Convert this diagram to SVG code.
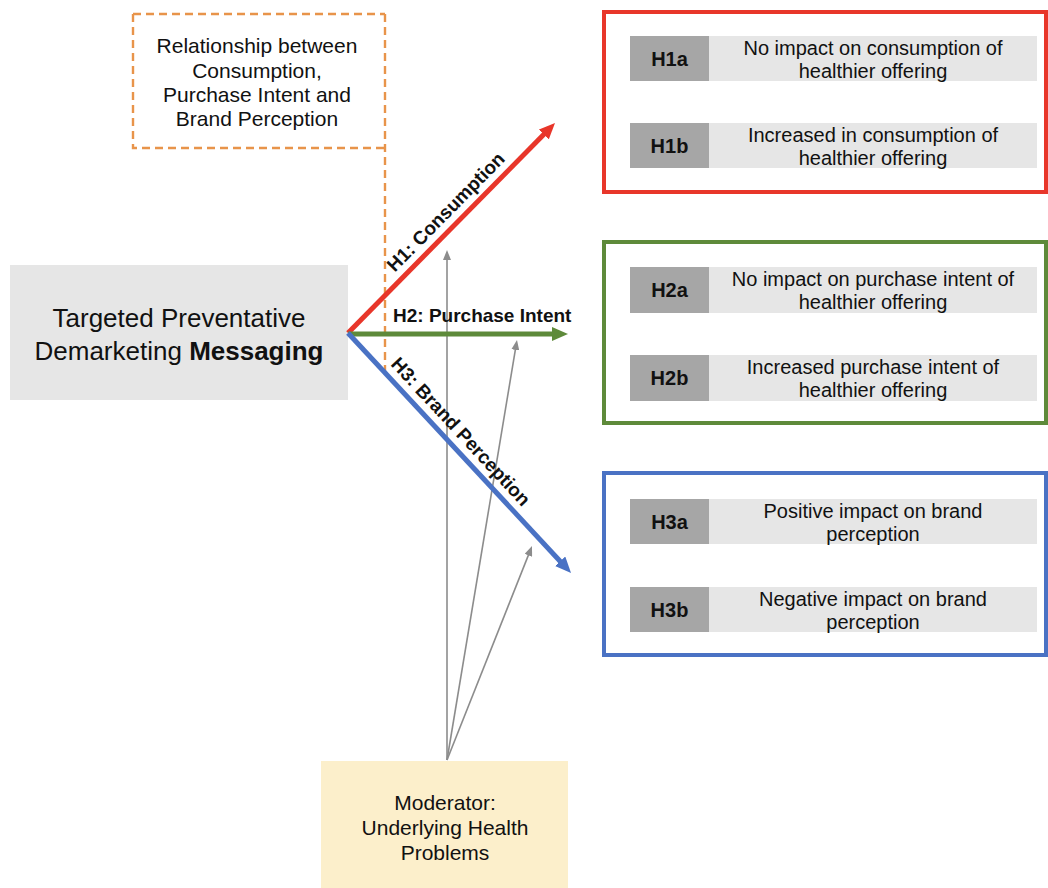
<svg xmlns="http://www.w3.org/2000/svg" width="1048" height="888" viewBox="0 0 1048 888">
  <defs>
    <style>
      text { font-family: "Liberation Sans", Arial, sans-serif; fill: #111; }
      .mid { text-anchor: middle; }
      .hyp { font-size: 20px; }
      .tag { font-size: 20px; font-weight: bold; }
      .path-label { font-size: 19px; font-weight: bold; }
      .frame { fill: #ffffff; stroke-width: 4; }
      .tagbox { fill: #a6a6a6; }
      .bar { fill: #e6e6e6; }
      .mod { stroke: #8c8c8c; stroke-width: 1.6; fill: none; }
    </style>
    <marker id="headRed" markerUnits="userSpaceOnUse" markerWidth="16" markerHeight="14" refX="2" refY="7" orient="auto">
      <path d="M0,0 L16,7 L0,14 z" fill="#e8362a"/>
    </marker>
    <marker id="headGreen" markerUnits="userSpaceOnUse" markerWidth="16" markerHeight="14" refX="2" refY="7" orient="auto">
      <path d="M0,0 L16,7 L0,14 z" fill="#5e8a3a"/>
    </marker>
    <marker id="headBlue" markerUnits="userSpaceOnUse" markerWidth="16" markerHeight="14" refX="2" refY="7" orient="auto">
      <path d="M0,0 L16,7 L0,14 z" fill="#4a72c4"/>
    </marker>
    <marker id="headGrey" markerUnits="userSpaceOnUse" markerWidth="10" markerHeight="8" refX="1" refY="4" orient="auto">
      <path d="M0,0 L10,4 L0,8 z" fill="#8c8c8c"/>
    </marker>
  </defs>

  <rect width="1048" height="888" fill="#ffffff"/>

  <!-- dashed scope box with its right edge running down past the arrows -->
  <g id="scope">
    <path d="M133,14 H385 M133,14 V148 H385 M385,14 V372" fill="none" stroke="#e8944a" stroke-width="2.4" stroke-dasharray="8,5"/>
    <text class="mid" x="257" y="53" font-size="21">Relationship between</text>
    <text class="mid" x="257" y="77.5" font-size="21">Consumption,</text>
    <text class="mid" x="257" y="102" font-size="21">Purchase Intent and</text>
    <text class="mid" x="257" y="126" font-size="21">Brand Perception</text>
  </g>

  <!-- independent variable -->
  <g id="messaging">
    <rect x="10" y="265" width="338" height="135" fill="#e6e6e6"/>
    <text class="mid" x="179" y="327" font-size="26">Targeted Preventative</text>
    <text class="mid" x="179" y="360" font-size="26">Demarketing <tspan font-weight="bold">Messaging</tspan></text>
  </g>

  <!-- moderator -->
  <g id="moderator">
    <rect x="321" y="761" width="247" height="127" fill="#fcefcb"/>
    <text class="mid" x="445" y="810" font-size="21">Moderator:</text>
    <text class="mid" x="445" y="835" font-size="21">Underlying Health</text>
    <text class="mid" x="445" y="860" font-size="21">Problems</text>
  </g>

  <!-- H1 outcomes -->
  <g id="h1">
    <rect class="frame" x="604" y="12" width="442" height="180" stroke="#e8362a"/>
    <rect class="tagbox" x="630" y="36" width="79" height="45"/>
    <rect class="bar" x="709" y="36" width="328" height="45"/>
    <text class="mid tag" x="669.5" y="66">H1a</text>
    <text class="mid hyp" x="873" y="54.5">No impact on consumption of</text>
    <text class="mid hyp" x="873" y="77.5">healthier offering</text>
    <rect class="tagbox" x="630" y="123" width="79" height="45"/>
    <rect class="bar" x="709" y="123" width="328" height="45"/>
    <text class="mid tag" x="669.5" y="153">H1b</text>
    <text class="mid hyp" x="873" y="141.5">Increased in consumption of</text>
    <text class="mid hyp" x="873" y="164.5">healthier offering</text>
  </g>

  <!-- H2 outcomes -->
  <g id="h2">
    <rect class="frame" x="604" y="242" width="442" height="181" stroke="#5e8a3a"/>
    <rect class="tagbox" x="630" y="267" width="79" height="46"/>
    <rect class="bar" x="709" y="267" width="328" height="46"/>
    <text class="mid tag" x="669.5" y="297">H2a</text>
    <text class="mid hyp" x="873" y="285.5">No impact on purchase intent of</text>
    <text class="mid hyp" x="873" y="308.5">healthier offering</text>
    <rect class="tagbox" x="630" y="355" width="79" height="46"/>
    <rect class="bar" x="709" y="355" width="328" height="46"/>
    <text class="mid tag" x="669.5" y="385">H2b</text>
    <text class="mid hyp" x="873" y="373.5">Increased purchase intent of</text>
    <text class="mid hyp" x="873" y="396.5">healthier offering</text>
  </g>

  <!-- H3 outcomes -->
  <g id="h3">
    <rect class="frame" x="604" y="473" width="442" height="182" stroke="#4a72c4"/>
    <rect class="tagbox" x="630" y="499" width="79" height="45"/>
    <rect class="bar" x="709" y="499" width="328" height="45"/>
    <text class="mid tag" x="669.5" y="529">H3a</text>
    <text class="mid hyp" x="873" y="517.5">Positive impact on brand</text>
    <text class="mid hyp" x="873" y="540.5">perception</text>
    <rect class="tagbox" x="630" y="587" width="79" height="45"/>
    <rect class="bar" x="709" y="587" width="328" height="45"/>
    <text class="mid tag" x="669.5" y="617">H3b</text>
    <text class="mid hyp" x="873" y="605.5">Negative impact on brand</text>
    <text class="mid hyp" x="873" y="628.5">perception</text>
  </g>

  <!-- connectors -->
  <g id="connectors">
    <line class="mod" x1="447" y1="760" x2="447" y2="259" marker-end="url(#headGrey)"/>
    <line class="mod" x1="447" y1="760" x2="515.5" y2="348.9" marker-end="url(#headGrey)"/>
    <line class="mod" x1="447" y1="760" x2="528.7" y2="554.4" marker-end="url(#headGrey)"/>

    <line x1="348" y1="333" x2="545.2" y2="133" stroke="#e8362a" stroke-width="5" marker-end="url(#headRed)"/>
    <line x1="348" y1="334" x2="554" y2="334" stroke="#5e8a3a" stroke-width="5" marker-end="url(#headGreen)"/>
    <line x1="348" y1="333" x2="561.5" y2="562.7" stroke="#4a72c4" stroke-width="5" marker-end="url(#headBlue)"/>

    <text class="path-label mid" transform="translate(348,333) rotate(-45.4)" x="155" y="-9">H1: Consumption</text>
    <text class="path-label" x="393" y="322">H2: Purchase Intent</text>
    <text class="path-label mid" transform="translate(348,333) rotate(47.1)" x="149" y="-9">H3: Brand Perception</text>
  </g>
</svg>
